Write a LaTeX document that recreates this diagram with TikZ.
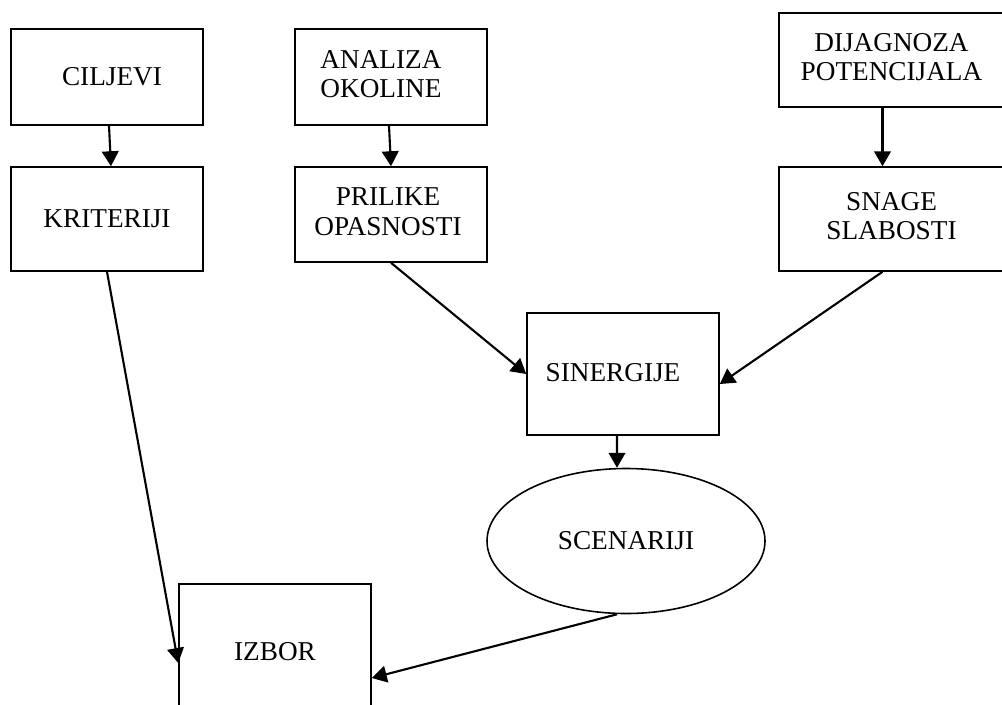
\documentclass[tikz,border=0pt]{standalone}
\usepackage{fontspec}
\setmainfont{Liberation Serif}
\usepackage{tikz}
\usetikzlibrary{positioning}
\usetikzlibrary{arrows.meta,shapes.geometric}
\newcommand{\twolines}[2]{\begin{tabular}{@{}c@{}}#1\\#2\end{tabular}}
\tikzset{%
  stepbox/.style={rectangle, draw=black, line width=0.9pt, minimum width=3.84cm, align=center, inner sep=0pt, font=\fontsize{15.5}{17}\selectfont},
  %
  oval/.style={ellipse, draw=black, line width=0.9pt, minimum width=5.56cm, minimum height=2.9cm, inner sep=0pt, font=\fontsize{15.5}{17}\selectfont},
  flow/.style={line width=1.2pt, -{Triangle[length=8.5pt,width=9.5pt]}}}

\begin{document}
\begin{tikzpicture}
    \useasboundingbox (0,0) rectangle (20.04,-14.08);
    %Nodes
    \node[stepbox, minimum height=1.92cm] (ciljevi) at (2.14,-1.54) {\raisebox{-0.15cm}{\hspace*{0.2cm}CILJEVI}};
    \node[stepbox, minimum height=2.08cm] (kriteriji) at (2.14,-4.38) {\raisebox{-0.1cm}{KRITERIJI}};
    \node[stepbox, minimum height=1.92cm] (analiza) at (7.82,-1.54) {\raisebox{0.05cm}{\twolines{ANALIZA}{OKOLINE}}\hspace*{0.4cm}};
    \node[stepbox, minimum height=1.90cm] (prilike) at (7.82,-4.29) {\raisebox{0.1cm}{\twolines{PRILIKE}{OPASNOSTI}}\hspace*{0.12cm}};
    \node[stepbox, minimum height=1.88cm, minimum width=4.5cm] (dijagnoza) at (17.83,-1.20) {\raisebox{0.12cm}{\twolines{DIJAGNOZA}{POTENCIJALA}}};
    \node[stepbox, minimum height=2.08cm, minimum width=4.5cm] (snage) at (17.83,-4.38) {\raisebox{0.36cm}{\twolines{SNAGE}{SLABOSTI}}};
    \node[stepbox, minimum height=2.44cm] (sinergije) at (12.46,-7.48) {\raisebox{0.05cm}{SINERGIJE}\hspace*{0.4cm}};
    \node[oval] (scenariji) at (12.52,-10.82) {SCENARIJI};
    \node[stepbox, minimum height=3.0cm] (izbor) at (5.50,-13.18) {\raisebox{0.3cm}{IZBOR}};

    %Lines
    \draw[flow] ([xshift=0.04cm]ciljevi.south) -- ([xshift=0.08cm]kriteriji.north);
    \draw[flow] ([xshift=-0.04cm]analiza.south) -- (prilike.north);
    \draw[flow] ([xshift=-0.18cm]dijagnoza.south) -- ([xshift=-0.18cm]snage.north);
    \draw[flow] (prilike.south) -- (sinergije.west);
    \draw[flow] ([xshift=-0.18cm]snage.south) -- ([yshift=-0.2cm]sinergije.east);
    \draw[flow] ([xshift=-0.12cm]sinergije.south) -- ([xshift=-0.18cm]scenariji.north);
    \draw[flow] (kriteriji.south) -- ([yshift=-0.08cm]izbor.west);
    \draw[flow] ([xshift=-0.18cm]scenariji.south) -- ([yshift=-0.38cm]izbor.east);
\end{tikzpicture}
\end{document}
